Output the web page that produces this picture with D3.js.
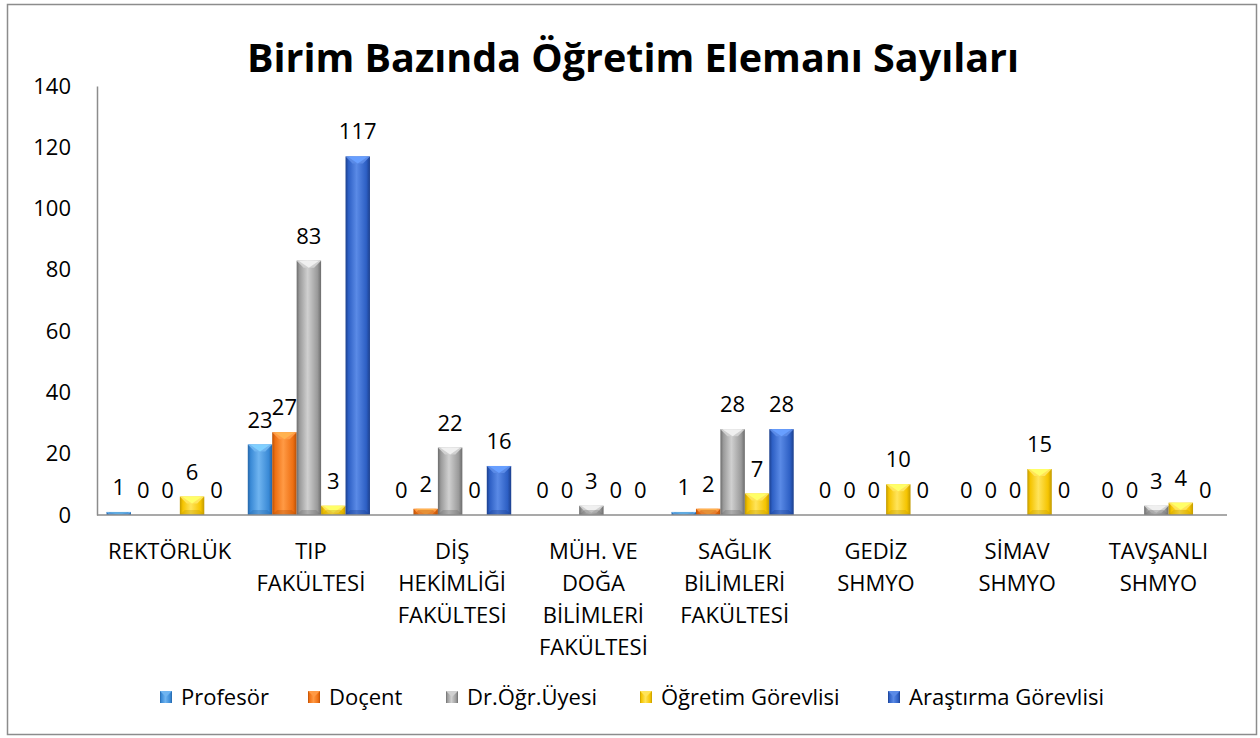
<!DOCTYPE html>
<html>
<head>
<meta charset="utf-8">
<script src="https://cdn.jsdelivr.net/npm/d3@7"></script>
<style>
  body { margin: 0; background: #fff; }
  text { font-family: "Open Sans", "Noto Sans", sans-serif; fill: #000; }
</style>
</head>
<body>
<div id="wrapper"></div>
<script>
const categories = [
  ['REKTÖRLÜK'],
  ['TIP', 'FAKÜLTESİ'],
  ['DİŞ', 'HEKİMLİĞİ', 'FAKÜLTESİ'],
  ['MÜH. VE', 'DOĞA', 'BİLİMLERİ', 'FAKÜLTESİ'],
  ['SAĞLIK', 'BİLİMLERİ', 'FAKÜLTESİ'],
  ['GEDİZ', 'SHMYO'],
  ['SİMAV', 'SHMYO'],
  ['TAVŞANLI', 'SHMYO']
];
const seriesNames = ['Profesör', 'Doçent', 'Dr.Öğr.Üyesi', 'Öğretim Görevlisi', 'Araştırma Görevlisi'];
const profesor = [1, 23, 0, 0, 1, 0, 0, 0];
const docent = [0, 27, 2, 0, 2, 0, 0, 0];
const drOgrUyesi = [0, 83, 22, 3, 28, 0, 0, 3];
const ogretimGorevlisi = [6, 3, 0, 0, 7, 10, 15, 4];
const arastirmaGorevlisi = [0, 117, 16, 0, 28, 0, 0, 0];
const yTicks = [0, 20, 40, 60, 80, 100, 120, 140];

const seriesValues = [profesor, docent, drOgrUyesi, ogretimGorevlisi, arastirmaGorevlisi];
// base, light, dark
const palette = [
  ['#3a8ad6', '#6fb4f0', '#2566a8'],
  ['#ee6f12', '#ff9a45', '#b84f05'],
  ['#9a9a9a', '#d0d0d0', '#6c6c6c'],
  ['#f5c400', '#ffe45a', '#c29a00'],
  ['#2d5fc4', '#5a8ae6', '#1c3f8c']
];

const dims = { width: 1260, height: 738, left: 97, right: 1227, top: 86, bottom: 515 };
const fontSize = '22px';

const svg = d3.select('#wrapper').append('svg')
  .attr('width', dims.width).attr('height', dims.height);

const defs = svg.append('defs');
palette.forEach((c, i) => {
  const g = defs.append('linearGradient').attr('id', 'grad' + i)
    .attr('x1', 0).attr('x2', 1).attr('y1', 0).attr('y2', 0);
  g.append('stop').attr('offset', '0%').attr('stop-color', c[2]);
  g.append('stop').attr('offset', '12%').attr('stop-color', c[0]);
  g.append('stop').attr('offset', '45%').attr('stop-color', c[1]);
  g.append('stop').attr('offset', '85%').attr('stop-color', c[0]);
  g.append('stop').attr('offset', '100%').attr('stop-color', c[2]);
});

// outer border
svg.append('rect')
  .attr('x', 7.5).attr('y', 4.5).attr('width', 1249).attr('height', 730)
  .attr('fill', 'none').attr('stroke', '#8c8c8c').attr('stroke-width', 1.5);

svg.append('text')
  .attr('x', 633).attr('y', 72)
  .attr('text-anchor', 'middle')
  .style('font-size', '39.5px').style('font-weight', 'bold')
  .text('Birim Bazında Öğretim Elemanı Sayıları');

const x0 = d3.scaleBand()
  .domain(d3.range(categories.length))
  .range([dims.left, dims.right])
  .paddingInner(0.135).paddingOuter(0.0675);

const x1 = d3.scaleBand()
  .domain(d3.range(seriesNames.length))
  .range([0, x0.bandwidth()]);

const y = d3.scaleLinear().domain([0, 140]).range([dims.bottom, dims.top]);

// y axis
const yAxis = svg.append('g')
  .attr('transform', `translate(${dims.left},0)`)
  .call(d3.axisLeft(y).tickValues(yTicks).tickSize(0).tickPadding(26));
yAxis.select('.domain').attr('stroke', '#8c8c8c').attr('stroke-width', 1.5);
yAxis.selectAll('text').style('font-size', fontSize)
  .style('font-family', '"Open Sans", sans-serif').attr('fill', '#000');

// bars
const bars = [];
seriesValues.forEach((vals, s) => {
  vals.forEach((v, c) => bars.push({ s, c, v }));
});

const barG = svg.append('g');
bars.forEach((d) => {
  const bx = x0(d.c) + x1(d.s);
  const bw = x1.bandwidth();
  const by = y(d.v);
  const bh = y(0) - by;
  if (bh <= 0) return;
  const c = palette[d.s];
  barG.append('rect')
    .attr('x', bx).attr('y', by).attr('width', bw).attr('height', bh)
    .attr('fill', `url(#grad${d.s})`);
  const bev = Math.min(7, bh);
  // top bevel: lighter trapezoid pointing down
  barG.append('path')
    .attr('d', `M${bx},${by} L${bx + bw},${by} L${bx + bw - bev},${by + bev} L${bx + bev},${by + bev} Z`)
    .attr('fill', c[1]);
  barG.append('path')
    .attr('d', `M${bx + 2},${by} L${bx + bw - 2},${by} L${bx + bw / 2},${by + bev} Z`)
    .attr('fill', d3.color(c[1]).brighter(0.4));
  // bottom shade
  const bb = Math.min(5, bh);
  barG.append('path')
    .attr('d', `M${bx},${by + bh} L${bx + bw},${by + bh} L${bx + bw - bb},${by + bh - bb} L${bx + bb},${by + bh - bb} Z`)
    .attr('fill', c[2]).attr('opacity', 0.35);
});

// x axis line
svg.append('line')
  .attr('x1', dims.left).attr('x2', dims.right)
  .attr('y1', y(0)).attr('y2', y(0))
  .attr('stroke', '#8c8c8c').attr('stroke-width', 1.5);

// data labels
svg.append('g').selectAll('text')
  .data(bars)
  .join('text')
  .attr('x', (d) => x0(d.c) + x1(d.s) + x1.bandwidth() / 2)
  .attr('y', (d) => y(d.v) - 17)
  .attr('text-anchor', 'middle')
  .style('font-size', fontSize)
  .text((d) => d.v);

// category labels
const catG = svg.append('g');
categories.forEach((lines, i) => {
  const cx = x0(i) + x0.bandwidth() / 2 + 2;
  const t = catG.append('text')
    .attr('x', cx)
    .attr('y', 559)
    .attr('text-anchor', 'middle')
    .style('font-size', fontSize);
  lines.forEach((l, j) => {
    t.append('tspan').attr('x', cx)
      .attr('dy', j === 0 ? 0 : 32).text(l);
  });
});

// legend
const legendX = [160, 308, 446, 640, 888];
const legend = svg.append('g');
seriesNames.forEach((name, i) => {
  const c = palette[i];
  const lx = legendX[i];
  legend.append('rect')
    .attr('x', lx).attr('y', 691).attr('width', 12).attr('height', 12)
    .attr('fill', `url(#grad${i})`);
  legend.append('path')
    .attr('d', `M${lx},691 L${lx + 12},691 L${lx + 6},697 Z`)
    .attr('fill', c[1]);
  legend.append('text')
    .attr('x', lx + 21).attr('y', 705)
    .style('font-size', fontSize)
    .text(name);
});
</script>
</body>
</html>
